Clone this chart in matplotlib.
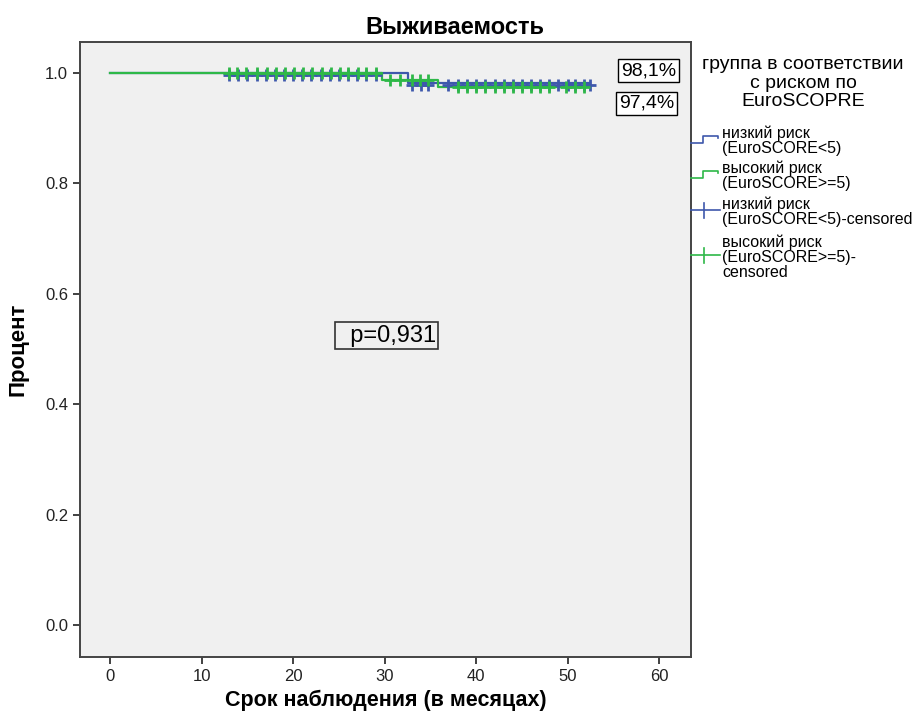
import numpy as np
import matplotlib.pyplot as plt
from matplotlib.lines import Line2D

plt.rcParams['font.family'] = ['Liberation Sans', 'DejaVu Sans']

# кривые выживаемости (Каплан-Мейер), время в месяцах
low_time = [0, 32.5, 52.4]
low_surv = [1.0, 0.981, 0.981]
high_time = [0, 29.7, 35.8, 52.0]
high_surv = [1.0, 0.987, 0.974, 0.974]

# цензурированные наблюдения
low_cens = [13, 14, 15, 16, 17, 18, 19, 20, 21, 22, 23, 24, 25, 26, 27, 28, 29,
            33.0, 34.0, 34.7, 36.9, 38, 39, 40, 41, 42, 43, 44, 45, 46, 47, 48,
            48.9, 50.0, 50.8, 51.8, 52.4]
high_cens = [13, 13.9, 14.9, 16, 17.1, 18.1, 19.1, 20.1, 21.1, 22.1, 23.1, 24.1,
             25.1, 26, 27.1, 28, 29, 30.6, 31.7, 33.0, 33.9, 34.7, 38, 39, 40,
             41, 42, 43, 44, 45, 46, 47, 47.9, 49.8, 50.8, 51.8]

low_label = "98,1%"
high_label = "97,4%"
p_label = "p=0,931"

xticks = [0, 10, 20, 30, 40, 50, 60]
yticks = [0.0, 0.2, 0.4, 0.6, 0.8, 1.0]

blue = "#3E58AC"
green = "#2EB848"


def surv_at(t, times, surv):
    i = np.searchsorted(times, t, side='right') - 1
    return np.array(surv)[i]


W, H = 916, 724
fig = plt.figure(figsize=(W / 100, H / 100), dpi=100)
ax = fig.add_axes([80 / W, 1 - 657 / H, 611 / W, 615 / H])
ax.set_facecolor("#f0f0f0")

ax.step(low_time, low_surv, where='post', color=blue, lw=1.6)
ax.step(high_time, high_surv, where='post', color=green, lw=1.6)
ax.plot(low_cens, surv_at(low_cens, low_time, low_surv) - 0.003, ls='none',
        marker='+', ms=8, mew=2, color=blue)
ax.plot(high_cens, surv_at(high_cens, high_time, high_surv), ls='none',
        marker='+', ms=8, mew=2, color=green)

box = dict(boxstyle='square,pad=0.16', fc='white', ec='black', lw=1)
ax.text(58.8, 1.004, low_label, ha='center', va='center', fontsize=14,
        bbox=box)
ax.text(58.6, 0.945, high_label, ha='center', va='center', fontsize=14,
        bbox=box)
ax.text(30.2, 0.524, "  " + p_label, ha='center', va='center', fontsize=17,
        bbox=dict(boxstyle='square,pad=0.1', fc='#f0f0f0', ec='#333333',
                  lw=1.2))

ax.set_xlim(-3.28, 63.46)
ax.set_ylim(-0.058, 1.056)
ax.set_xticks(xticks)
ax.set_yticks(yticks)
ax.set_yticklabels(["%.1f" % v for v in yticks])
ax.tick_params(direction='out', length=5, width=1.3, labelsize=12,
               color='#333333', labelcolor='#222222')
for s in ax.spines.values():
    s.set_color('#444444')
    s.set_linewidth(1.4)

fig.text(455 / W, 1 - 27 / H, "Выживаемость", ha='center', va='center',
         fontsize=17, fontweight='bold')
ax.set_xlabel("Срок наблюдения (в месяцах)", fontsize=15.5, fontweight='bold')
ax.xaxis.set_label_coords(0.5, -0.053)
ax.set_ylabel("Процент", fontsize=16, fontweight='bold', va='center')
ax.yaxis.set_label_coords(-0.101, 0.5)

# легенда справа, в пиксельных координатах
lg = fig.add_axes([690 / W, 0, 226 / W, 1])
lg.set_xlim(690, 916)
lg.set_ylim(724, 0)
lg.axis('off')
lg.text(803, 83, "группа в соответствии\nс риском по\nEuroSCOPRE",
        ha='center', va='center', fontsize=14, linespacing=1.12)

entries = [
    ("низкий риск\n(EuroSCORE<5)", blue, 'step', 141),
    ("высокий риск\n(EuroSCORE>=5)", green, 'step', 176),
    ("низкий риск\n(EuroSCORE<5)-censored", blue, 'plus', 212),
    ("высокий риск\n(EuroSCORE>=5)-\ncensored", green, 'plus', 257),
]
for text, col, kind, yc in entries:
    if kind == 'step':
        lg.add_line(Line2D([690, 703, 703, 718, 718],
                           [yc + 2, yc + 2, yc - 5, yc - 5, yc - 3],
                           color=col, lw=1.2))
    else:
        lg.add_line(Line2D([690, 720], [yc - 2, yc - 2], color=col, lw=1.2))
        lg.add_line(Line2D([704, 704], [yc - 9, yc + 6], color=col, lw=1.2))
    lg.text(722, yc, text, ha='left', va='center', fontsize=11.5,
            linespacing=1.0)

fig.savefig("out.png", dpi=100)
